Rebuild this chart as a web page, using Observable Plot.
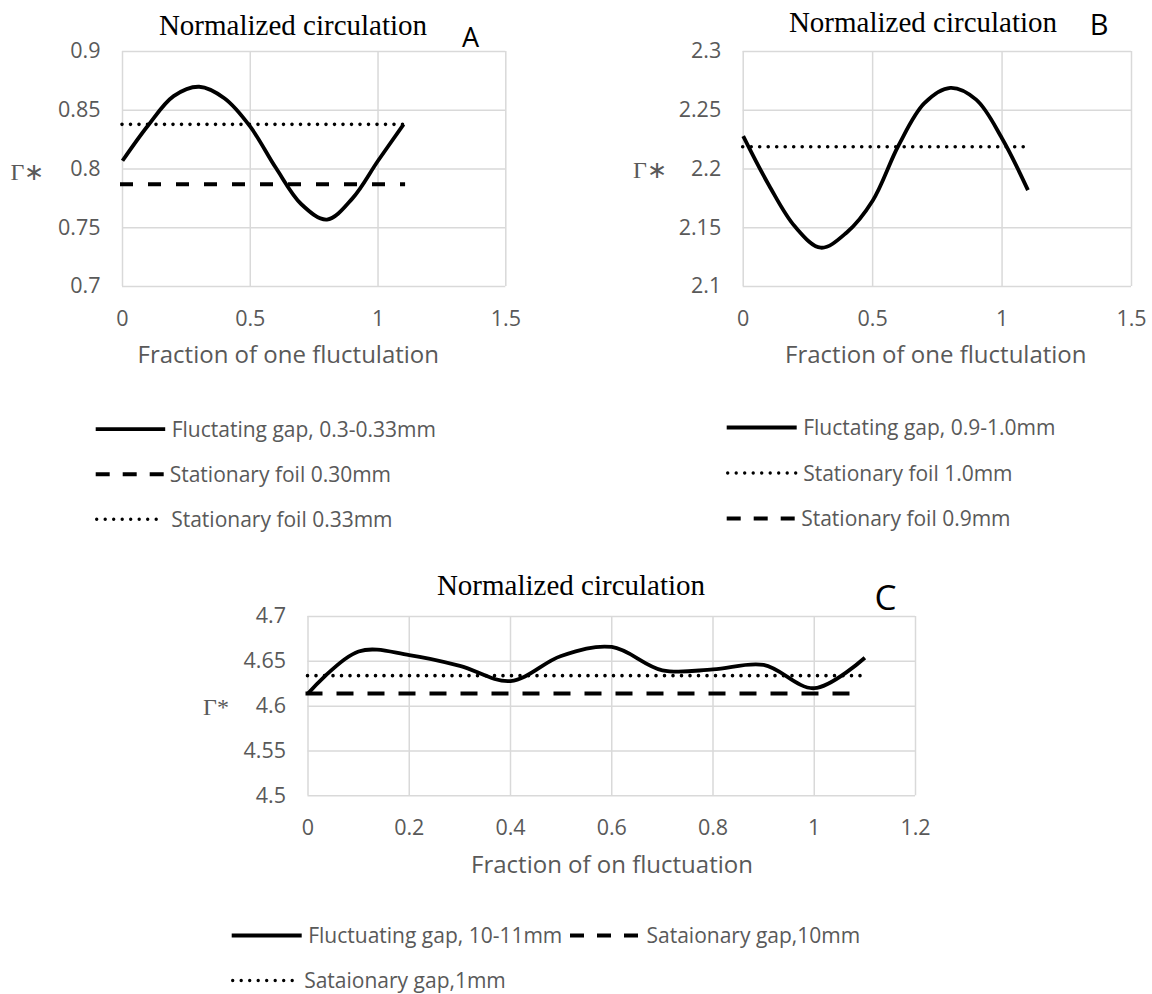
<!DOCTYPE html>
<html>
<head>
<meta charset="utf-8">
<script src="https://cdn.jsdelivr.net/npm/d3@7"></script>
<script src="https://cdn.jsdelivr.net/npm/@observablehq/plot@0.6"></script>
<style>
  body { margin: 0; background: #fff; }
  #page { position: relative; width: 1152px; height: 994px; overflow: hidden; background: #fff; }
  #page > svg { position: absolute; }
</style>
</head>
<body>
<div id="page"></div>
<script>
// Sample positions within one gap fluctuation (shared by all panels)
const phase = [0, 0.1, 0.2, 0.3, 0.4, 0.5, 0.6, 0.7, 0.8, 0.9, 1.0, 1.1];

// Panel A — gap 0.3–0.33 mm
const gammaA = [0.807, 0.837, 0.862, 0.870, 0.860, 0.836, 0.801, 0.770, 0.757, 0.775, 0.807, 0.838];
const stationaryA030 = 0.787;
const stationaryA033 = 0.838;
const xTicksA = [0, 0.5, 1, 1.5];
const yTicksA = [0.7, 0.75, 0.8, 0.85, 0.9];

// Panel B — gap 0.9–1.0 mm
const gammaB = [2.228, 2.186, 2.151, 2.133, 2.146, 2.173, 2.220, 2.256, 2.269, 2.259, 2.226, 2.182];
const stationaryB10 = 2.219;
const xTicksB = [0, 0.5, 1, 1.5];
const yTicksB = [2.1, 2.15, 2.2, 2.25, 2.3];

// Panel C — gap 10–11 mm
const gammaC = [4.614, 4.661, 4.657, 4.645, 4.628, 4.656, 4.666, 4.640, 4.641, 4.646, 4.620, 4.654];
const stationaryC10 = 4.614;
const stationaryC1 = 4.634;
const xTicksC = [0, 0.2, 0.4, 0.6, 0.8, 1, 1.2];
const yTicksC = [4.5, 4.55, 4.6, 4.65, 4.7];

// Legend entries
const legendA = ["Fluctating gap, 0.3-0.33mm", "Stationary foil 0.30mm", "Stationary foil 0.33mm"];
const legendB = ["Fluctating gap, 0.9-1.0mm", "Stationary foil 1.0mm", "Stationary foil 0.9mm"];
const legendC = ["Fluctuating gap, 10-11mm", "Sataionary gap,10mm", "Sataionary gap,1mm"];

const SANS = "'Open Sans', sans-serif";
const SERIF = "'Liberation Serif', 'Times New Roman', serif";
const GRAY = "#595959";
const GRID = "#d9d9d9";

const solid = {stroke: "black", strokeWidth: 3.8, strokeLinejoin: "round", strokeLinecap: "butt"};
const dotted = {stroke: "black", strokeWidth: 3.6, strokeDasharray: "0 8.5", strokeLinecap: "round"};
const dashedAB = {stroke: "black", strokeWidth: 4, strokeDasharray: "9 19", strokeLinecap: "square"};
const dashedC = {stroke: "black", strokeWidth: 4, strokeDasharray: "13 18", strokeLinecap: "square"};

const page = document.getElementById("page");

function panel({left, top, width, height, margins, xDomain, yDomain, xTicks, yTicks, marks}) {
  const chart = Plot.plot({
    width, height,
    marginLeft: margins[0], marginRight: margins[1], marginTop: margins[2], marginBottom: margins[3],
    style: {fontFamily: SANS, fontSize: "21.5px", color: GRAY, background: "transparent", overflow: "visible"},
    x: {domain: xDomain, ticks: xTicks, tickSize: 0, tickPadding: 24, tickFormat: d => String(d), label: null},
    y: {domain: yDomain, ticks: yTicks, tickSize: 0, tickPadding: 22, tickFormat: d => String(d), label: null},
    marks: [
      Plot.ruleY(yTicks, {stroke: GRID, strokeWidth: 1.5}),
      Plot.ruleX(xTicks, {stroke: GRID, strokeWidth: 1.5}),
      ...marks
    ]
  });
  chart.style.left = left + "px";
  chart.style.top = top + "px";
  page.appendChild(chart);
}

const rows = phase.map((p, i) => ({p, a: gammaA[i], b: gammaB[i], c: gammaC[i]}));
const x0 = phase[0], x1 = phase[phase.length - 1];

// Panel A
panel({
  left: 0, top: 0, width: 560, height: 340,
  margins: [122, 54.7, 51, 54],
  xDomain: [0, 1.5], yDomain: [0.7, 0.9], xTicks: xTicksA, yTicks: yTicksA,
  marks: [
    Plot.ruleY([stationaryA033], {x1: x0, x2: x1, ...dotted}),
    Plot.ruleY([stationaryA030], {x1: x0, x2: x1, ...dashedAB}),
    Plot.line(rows, {x: "p", y: "a", curve: "catmull-rom", ...solid})
  ]
});

// Panel B
panel({
  left: 576, top: 0, width: 576, height: 340,
  margins: [166.7, 21, 51, 54],
  xDomain: [0, 1.5], yDomain: [2.1, 2.3], xTicks: xTicksB, yTicks: yTicksB,
  marks: [
    Plot.ruleY([stationaryB10], {x1: x0, x2: x1, ...dotted}),
    Plot.line(rows, {x: "p", y: "b", curve: "catmull-rom", ...solid})
  ]
});

// Panel C
panel({
  left: 0, top: 560, width: 1152, height: 280,
  margins: [307.5, 237, 56, 44.7],
  xDomain: [0, 1.2], yDomain: [4.5, 4.7], xTicks: xTicksC, yTicks: yTicksC,
  marks: [
    Plot.ruleY([stationaryC1], {x1: x0, x2: x1, ...dotted}),
    Plot.ruleY([stationaryC10], {x1: x0, x2: x1, ...dashedC}),
    Plot.line(rows, {x: "p", y: "c", curve: "catmull-rom", ...solid})
  ]
});

// Titles, panel letters, axis titles and legends
const overlay = d3.select(page).append("svg")
  .attr("width", 1152).attr("height", 994)
  .style("left", "0px").style("top", "0px")
  .style("pointer-events", "none");

function label(x, y, str, size, family, fill, anchor = "middle") {
  overlay.append("text")
    .attr("x", x).attr("y", y)
    .attr("text-anchor", anchor)
    .attr("font-family", family)
    .attr("font-size", size)
    .attr("fill", fill)
    .text(str);
}

label(293, 35, "Normalized circulation", 29, SERIF, "black");
label(923, 32, "Normalized circulation", 29, SERIF, "black");
label(571, 595, "Normalized circulation", 29, SERIF, "black");

label(470.5, 46.7, "A", 27, SANS, "black");
label(1099, 35, "B", 29, SANS, "black");
label(885.5, 610, "C", 35, SANS, "black");

label(27.5, 180, "Γ∗", 24, SERIF, GRAY);
label(650, 178, "Γ∗", 24, SERIF, GRAY);
label(216, 715, "Γ*", 24, SERIF, GRAY);

label(288.3, 362.7, "Fraction of one fluctulation", 24, SANS, GRAY);
label(935.8, 363.3, "Fraction of one fluctulation", 24, SANS, GRAY);
label(612, 873.3, "Fraction of on fluctuation", 24, SANS, GRAY);

function legendItem(x, baseline, sampleWidth, style, str) {
  const y = baseline - 7.5;
  overlay.append("line")
    .attr("x1", x).attr("x2", x + sampleWidth)
    .attr("y1", y).attr("y2", y)
    .attr("stroke", "black")
    .attr("stroke-width", style.strokeWidth)
    .attr("stroke-dasharray", style.dash || null)
    .attr("stroke-linecap", style.cap || "butt");
  label(x + sampleWidth + 6.5, baseline, str, 21, SANS, GRAY, "start");
}

const legSolid = {strokeWidth: 3.8};
const legDash = {strokeWidth: 4, dash: "10 17", cap: "square"};
const legDot = {strokeWidth: 3.4, dash: "0 8.5", cap: "round"};

legendItem(95.7, 436.7, 69.5, legSolid, legendA[0]);
legendItem(97.7, 481.7, 65.5, legDash, legendA[1]);
legendItem(96.7, 526.7, 68, legDot, legendA[2]);

legendItem(726.7, 435, 70, legSolid, legendB[0]);
legendItem(727.7, 480.5, 69, legDot, legendB[1]);
legendItem(728.7, 526, 66, legDash, legendB[2]);

legendItem(231.7, 943, 70, legSolid, legendC[0]);
legendItem(572, 943, 68, legDash, legendC[1]);
legendItem(232.7, 988, 65, legDot, legendC[2]);
</script>
</body>
</html>
